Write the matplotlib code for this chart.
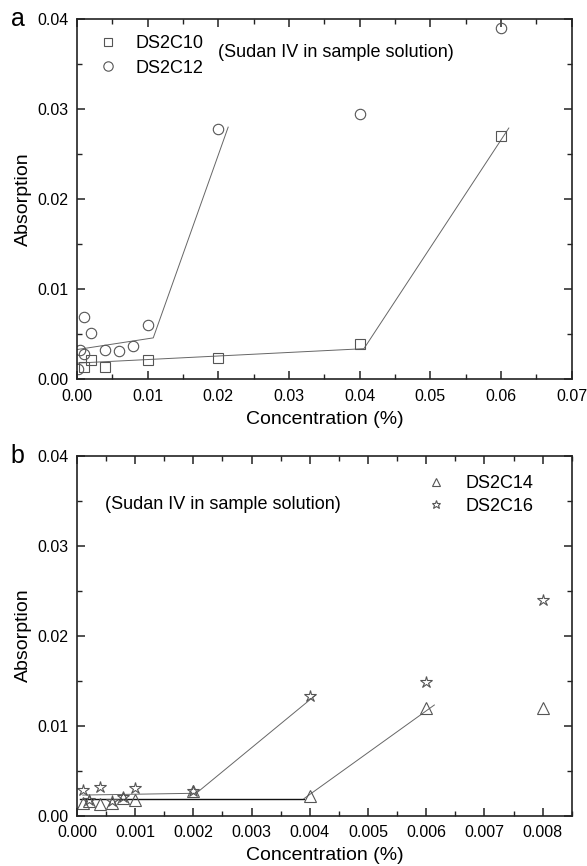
import matplotlib
matplotlib.use('Agg')
import matplotlib.pyplot as plt
from matplotlib.ticker import MultipleLocator

plt.rcParams['font.family'] = ['Liberation Sans', 'DejaVu Sans']

## panel a : DS2C10 / DS2C12
c10_x = [0.001, 0.002, 0.004, 0.01, 0.02, 0.04, 0.06]
c10_y = [0.0014, 0.0021, 0.0014, 0.0021, 0.0024, 0.0039, 0.027]
c12_x = [0.0002, 0.0005, 0.001, 0.001, 0.002, 0.004, 0.006, 0.008, 0.01, 0.02, 0.04, 0.06]
c12_y = [0.0012, 0.0033, 0.0028, 0.0069, 0.0051, 0.0032, 0.0031, 0.0037, 0.006, 0.0278, 0.0295, 0.039]
# fitted segments
c10_fit_x = [0.0, 0.0406, 0.0611]
c10_fit_y = [0.0018, 0.0034, 0.0279]
c12_fit_x = [0.0, 0.0108, 0.0214]
c12_fit_y = [0.0033, 0.0046, 0.0280]

## panel b : DS2C14 / DS2C16
c14_x = [0.0001, 0.0002, 0.0004, 0.0006, 0.0008, 0.001, 0.002, 0.004, 0.006, 0.008]
c14_y = [0.0014, 0.0016, 0.0013, 0.0014, 0.002, 0.0017, 0.0027, 0.0022, 0.012, 0.012]
c16_x = [0.0001, 0.0002, 0.0004, 0.0006, 0.0008, 0.001, 0.002, 0.004, 0.006, 0.008]
c16_y = [0.0029, 0.0018, 0.0032, 0.0016, 0.0021, 0.0031, 0.0028, 0.0133, 0.0149, 0.024]
c14_flat_x = [0.00005, 0.0039]
c14_flat_y = [0.0019, 0.0019]
c14_fit_x = [0.0039, 0.00614]
c14_fit_y = [0.0019, 0.0123]
c16_fit_x = [0.0001, 0.00205, 0.0041]
c16_fit_y = [0.0023, 0.0025, 0.0134]

mk = dict(linestyle='', markerfacecolor='none', markeredgecolor='#555555', markeredgewidth=0.8)
ln = dict(color='#666666', linewidth=0.7)

fig = plt.figure(figsize=(5.87, 8.66), dpi=100)
ax1 = fig.add_axes([0.131, 0.562, 0.843, 0.416])
ax2 = fig.add_axes([0.131, 0.058, 0.843, 0.416])

def style(ax):
	for s in ax.spines.values():
		s.set_linewidth(1.2)
		s.set_color('#222222')
	ax.tick_params(which='both', direction='in', top=True, right=True, labelsize=11.5, color='#222222')
	ax.tick_params(which='major', length=6, width=1.1)
	ax.tick_params(which='minor', length=3.5, width=1.0)
	ax.tick_params(axis='x', which='major', pad=7)
	ax.tick_params(axis='y', which='major', pad=6)
	ax.set_ylim(0, 0.04)
	ax.yaxis.set_major_locator(MultipleLocator(0.01))
	ax.yaxis.set_minor_locator(MultipleLocator(0.005))
	ax.set_ylabel('Absorption', fontsize=14, labelpad=4)
	ax.set_xlabel('Concentration (%)', fontsize=14, labelpad=5)

# panel a
ax1.plot(c10_fit_x, c10_fit_y, **ln)
ax1.plot(c12_fit_x, c12_fit_y, **ln)
ax1.plot(c10_x, c10_y, marker='s', markersize=6.5, label='DS2C10', **mk)
ax1.plot(c12_x, c12_y, marker='o', markersize=7.5, label='DS2C12', **mk)
ax1.set_xlim(0, 0.07)
ax1.xaxis.set_major_locator(MultipleLocator(0.01))
ax1.xaxis.set_minor_locator(MultipleLocator(0.005))
ax1.xaxis.set_major_formatter(plt.FormatStrFormatter('%.2f'))
ax1.yaxis.set_major_formatter(plt.FormatStrFormatter('%.2f'))
style(ax1)
ax1.legend(loc='upper left', bbox_to_anchor=(0.02, 0.985), frameon=False, fontsize=13,
	markerscale=0.9, handlelength=1.2, handletextpad=0.9, labelspacing=0.4, borderaxespad=0.2)
ax1.text(0.285, 0.906, '(Sudan IV in sample solution)', transform=ax1.transAxes, fontsize=13, va='center')

# panel b
ax2.plot(c14_flat_x, c14_flat_y, color='#111111', linewidth=1.0)
ax2.plot(c14_fit_x, c14_fit_y, **ln)
ax2.plot(c16_fit_x, c16_fit_y, **ln)
ax2.plot(c14_x, c14_y, marker='^', markersize=9, label='DS2C14', **mk)
ax2.plot(c16_x, c16_y, marker='*', markersize=9, label='DS2C16', **mk)
ax2.set_xlim(0, 0.0085)
ax2.xaxis.set_major_locator(MultipleLocator(0.001))
ax2.xaxis.set_minor_locator(MultipleLocator(0.0005))
ax2.xaxis.set_major_formatter(plt.FormatStrFormatter('%.3f'))
ax2.yaxis.set_major_formatter(plt.FormatStrFormatter('%.2f'))
style(ax2)
ax2.legend(loc='upper right', bbox_to_anchor=(0.955, 0.99), frameon=False, fontsize=13,
	markerscale=0.7, handlelength=1.2, handletextpad=1.0, labelspacing=0.3, borderaxespad=0.5)
ax2.text(0.057, 0.864, '(Sudan IV in sample solution)', transform=ax2.transAxes, fontsize=13, va='center')

fig.text(0.018, 0.978, 'a', fontsize=18, va='center')
fig.text(0.018, 0.474, 'b', fontsize=18, va='center')

plt.savefig('out.png', dpi=100)
